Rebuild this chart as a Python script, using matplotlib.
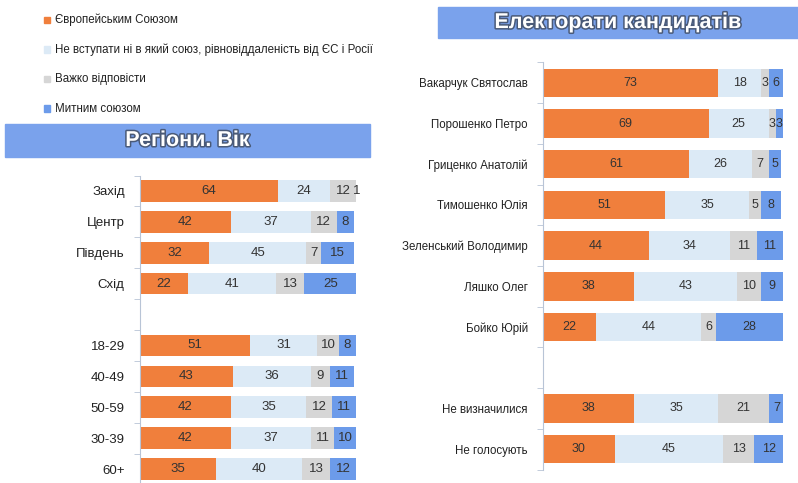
import matplotlib
matplotlib.use("Agg")
import matplotlib.pyplot as plt
import matplotlib.patheffects as pe
from matplotlib.patches import Rectangle
import numpy as np

plt.rcParams["font.family"] = ["Liberation Sans", "DejaVu Sans"]

series = ["Європейським Союзом",
          "Не вступати ні в який союз, рівновіддаленість від ЄС і Росії",
          "Важко відповісти",
          "Митним союзом"]
colors = ["#F07F3C", "#DCEAF6", "#D6D6D6", "#6C9BEA"]

# Регіони. Вік  (None = gap row)
left_labels = ["Захід", "Центр", "Південь", "Схід", None,
               "18-29", "40-49", "50-59", "30-39", "60+"]
left_eu = [64, 42, 32, 22, None, 51, 43, 42, 42, 35]
left_none = [24, 37, 45, 41, None, 31, 36, 35, 37, 40]
left_hard = [12, 12, 7, 13, None, 10, 9, 12, 11, 13]
left_cu = [1, 8, 15, 25, None, 8, 11, 11, 10, 12]

# Електорати кандидатів
right_labels = ["Вакарчук Святослав", "Порошенко Петро", "Гриценко Анатолій",
                "Тимошенко Юлія", "Зеленський Володимир", "Ляшко Олег",
                "Бойко Юрій", None, "Не визначилися", "Не голосують"]
right_eu = [73, 69, 61, 51, 44, 38, 22, None, 38, 30]
right_none = [18, 25, 26, 35, 34, 43, 44, None, 35, 45]
right_hard = [3, 3, 7, 5, 11, 10, 6, None, 21, 13]
right_cu = [6, 3, 5, 8, 11, 9, 28, None, 7, 12]

W, H = 798, 483
fig = plt.figure(figsize=(W / 100, H / 100), dpi=100)


def px_axes(x0, y0, x1, y1):
    return fig.add_axes([x0 / W, 1 - y1 / H, (x1 - x0) / W, (y1 - y0) / H])


def stacked(ax, labels, cols, fs_tick, fs_val):
    n = len(labels)
    ypos = np.arange(n)
    left = np.zeros(n)
    for vals, c in zip(cols, colors):
        for i in range(n):
            v = vals[i]
            if v is None:
                continue
            ax.barh(ypos[i], v, left=left[i], height=0.7, color=c, linewidth=0)
            ax.text(left[i] + v / 2, ypos[i], str(v), ha="center", va="center",
                    fontsize=fs_val, color="#333333")
            left[i] += v
    ax.set_xlim(0, 100)
    ax.set_ylim(n - 0.5, -0.5)
    ax.set_yticks([i for i in ypos if labels[i] is not None])
    ax.set_yticklabels([l for l in labels if l is not None], fontsize=fs_tick, color="#222222")
    ax.set_yticks(np.arange(-0.5, n, 1.0), minor=True)
    ax.tick_params(axis="y", which="major", length=0, pad=11)
    ax.tick_params(axis="y", which="minor", length=4, color="#b8c4d6", direction="out")
    ax.set_xticks([])
    for s in ["top", "right", "bottom"]:
        ax.spines[s].set_visible(False)
    ax.spines["left"].set_color("#b8c4d6")


axL = px_axes(140, 175.5, 356, 484.5)
stacked(axL, left_labels, [left_eu, left_none, left_hard, left_cu], 9.5, 9.5)

axR = px_axes(543, 62.5, 783, 469.5)
stacked(axR, right_labels, [right_eu, right_none, right_hard, right_cu], 8.3, 9)

# legend
for i, (name, c) in enumerate(zip(series, colors)):
    y = 20 + i * 29.5
    fig.patches.append(Rectangle((44 / W, 1 - (y + 3) / H), 6 / W, 6 / H,
                                 transform=fig.transFigure, color=c))
    fig.text(55 / W, 1 - y / H, name, fontsize=8.3, va="center", color="#222222")

# title bars
outline = [pe.withStroke(linewidth=2.2, foreground="#4a5a78")]
for (x0, y0, x1, y1), txt in [((5, 124, 370, 157), "Регіони. Вік"),
                              ((438, 7, 798, 38), "Електорати кандидатів")]:
    fig.patches.append(Rectangle((x0 / W, 1 - y1 / H), (x1 - x0) / W, (y1 - y0) / H,
                                 transform=fig.transFigure, color="#7AA2EC"))
    fig.text((x0 + x1) / 2 / W, 1 - (y0 + y1) / 2 / H, txt, ha="center", va="center",
             fontsize=15.5, fontweight="bold", color="white", path_effects=outline)

fig.savefig("out.png", dpi=100)
